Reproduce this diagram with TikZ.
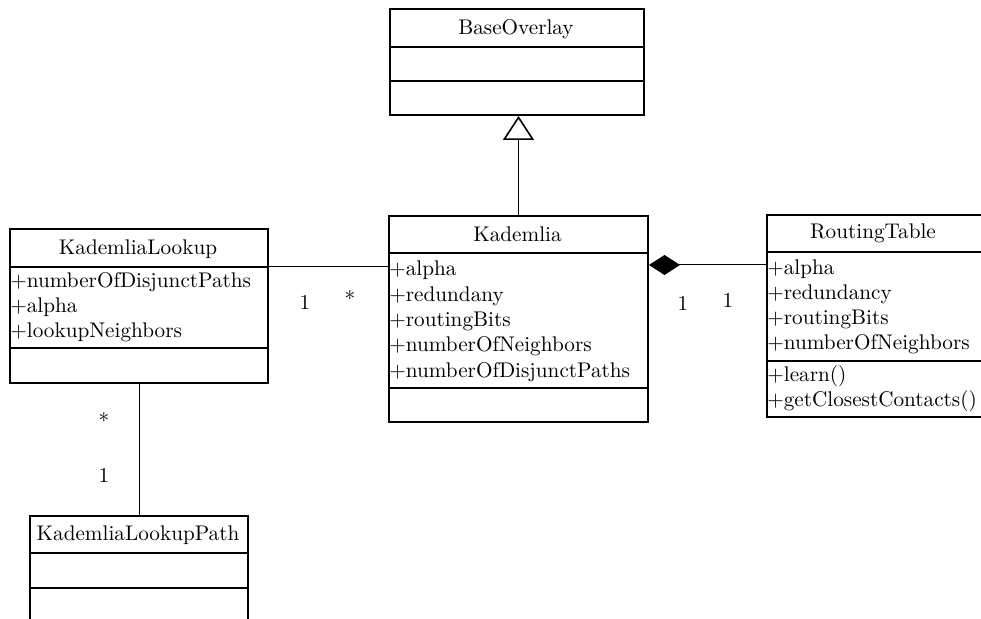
\documentclass[tikz,border=0pt]{standalone}
\usetikzlibrary{arrows.meta}
\begin{document}
\fontsize{10.6}{12.7}\selectfont
% coordinates are given in units of 0.5pt, y growing downwards
\begin{tikzpicture}[x=0.5pt, y=-0.5pt,
  classbox/.style={draw, line width=1pt, inner sep=0pt, anchor=north west},
  sepline/.style={line width=1pt},
  conn/.style={line width=0.5pt},
  title/.style={anchor=base, inner sep=0pt},
  member/.style={anchor=base west, inner sep=0pt},
  mult/.style={inner sep=0pt}]
\clip (0,0) rectangle (981,619);

% ---- BaseOverlay
\node[classbox, minimum width=127pt, minimum height=53pt] (base) at (389,8) {};
\draw[sepline] (389,47) -- (643,47) (389,81) -- (643,81);
\node[title] (baseT) at (516,35) {BaseOverlay};

% ---- Kademlia
\node[classbox, minimum width=129.5pt, minimum height=103pt] (kad) at (388,215) {};
\draw[sepline] (388,253) -- (647,253) (388,388) -- (647,388);
\node[title] (kadT) at (517.5,242) {Kademlia};
\node[member] (kadA) at (389,276) {+alpha};
\node[member] (kadB) at (389,302) {+redundany};
\node[member] (kadC) at (389,327) {+routingBits};
\node[member] (kadD) at (389,352) {+numberOfNeighbors};
\node[member] (kadE) at (389,378) {+numberOfDisjunctPaths};

% ---- RoutingTable (continues past the right edge)
\node[classbox, minimum width=120pt, minimum height=101pt] (rt) at (766,214) {};
\draw[sepline] (766,252) -- (1006,252) (766,361) -- (1006,361);
\node[title] (rtT) at (873,239) {RoutingTable};
\node[member] (rtA) at (767,275) {+alpha};
\node[member] (rtB) at (767,300) {+redundancy};
\node[member] (rtC) at (767,325) {+routingBits};
\node[member] (rtD) at (767,350) {+numberOfNeighbors};
\node[member] (rtE) at (767,382) {+learn()};
\node[member] (rtF) at (767,407) {+getClosestContacts()};

% ---- KademliaLookup
\node[classbox, minimum width=129pt, minimum height=77pt] (kl) at (9,228) {};
\draw[sepline] (9,267) -- (267,267) (9,348) -- (267,348);
\node[title] (klT) at (138,255) {KademliaLookup};
\node[member] (klA) at (10,288) {+numberOfDisjunctPaths};
\node[member] (klB) at (10,313) {+alpha};
\node[member] (klC) at (10,338) {+lookupNeighbors};

% ---- KademliaLookupPath (continues past the bottom edge)
\node[classbox, minimum width=109pt, minimum height=70pt] (klp) at (29,515) {};
\draw[sepline] (29,553) -- (247,553) (29,588) -- (247,588);
\node[title] (klpT) at (138,541) {KademliaLookupPath};

% ---- relations
\coordinate (assocY) at (0,266.5);
\coordinate (compY) at (0,265);
\draw[conn, -{Triangle[open, width=15.5pt, length=12pt, line width=0.8pt]}]
  (kad.north) -- (kad.north |- base.south);
\draw[conn] (kl.east |- assocY) -- (kad.west |- assocY);
\draw[conn, {Diamond[width=10pt, length=15.5pt]}-] (kad.east |- compY) -- (rt.west |- compY);
\draw[conn] (kl.south) -- (klp.north);

% ---- multiplicities
\node[mult] (m1) at (305,302) {1};
\node[mult] (m2) at (350,299) {*};
\node[mult] (m3) at (683,303) {1};
\node[mult] (m4) at (728,300) {1};
\node[mult] (m5) at (104,421) {*};
\node[mult] (m6) at (104,475) {1};
\end{tikzpicture}
\end{document}
